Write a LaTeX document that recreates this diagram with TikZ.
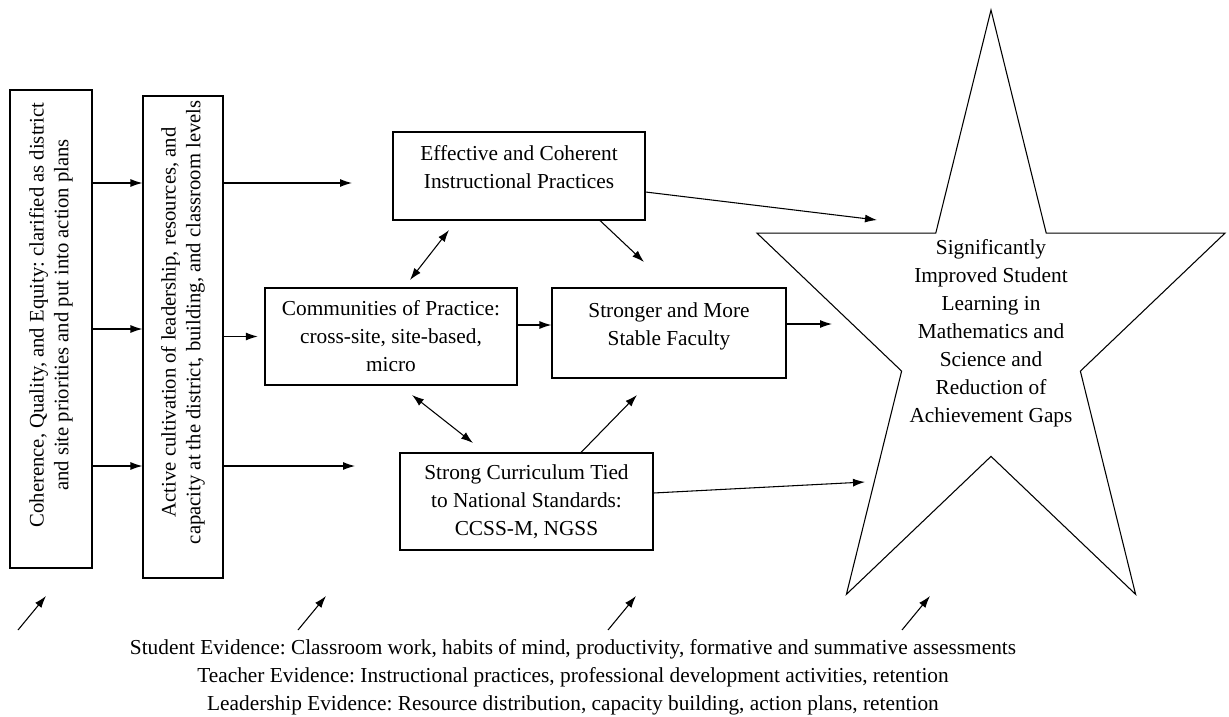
\documentclass[tikz,border=0pt]{standalone}
\usepackage{fontspec}
\setmainfont{Liberation Serif}
\usetikzlibrary{arrows.meta}
\frenchspacing

\tikzset{
  box/.style={draw, line width=0.8pt, align=center, inner sep=2pt},
  sidebox/.style={box, rotate=90, font=\fontsize{15.5}{18.5}\selectfont},
  arr/.style={-{Latex[length=9pt,width=6pt]}, line width=0.8pt},
  dblarr/.style={{Latex[length=9pt,width=6pt]}-{Latex[length=9pt,width=6pt]}, line width=0.8pt}
}

\begin{document}
\begin{tikzpicture}[x=0.75pt, y=-0.75pt, font=\fontsize{16}{21}\selectfont]
  \useasboundingbox (0,0) rectangle (1229,717);

  % left column (text runs upwards)
  \node[sidebox, minimum width=358.5pt, minimum height=61.5pt] (coh) at (51,329)
    {\hspace*{21pt}Coherence, Quality, and Equity: clarified as district\\
     \hspace*{21pt}and site priorities and put into action plans};
  \node[sidebox, minimum width=361.5pt, minimum height=60pt] (act) at (183,337)
    {\hspace*{22pt}Active cultivation of leadership, resources, and\\
     \hspace*{22pt}capacity at the district, building, and classroom levels};

  % middle boxes
  \node[box, minimum width=189pt, minimum height=66pt] (eff) at (519,176)
    {Effective and Coherent\\Instructional Practices\\[-7pt]\mbox{}};
  \node[box, minimum width=189pt, minimum height=72.75pt] (com) at (391,336.5)
    {Communities of Practice:\\cross-site, site-based,\\micro};
  \node[box, minimum width=175.5pt, minimum height=67.5pt] (sta) at (669,333)
    {Stronger and More\\Stable Faculty\\[-7pt]\mbox{}};
  \node[box, minimum width=189.75pt, minimum height=72.75pt] (cur) at (526.5,501.5)
    {Strong Curriculum Tied\\to National Standards:\\CCSS-M, NGSS};

  % the star
  \draw[line width=0.8pt] (991,10)
    \foreach \a/\r in {126/0.382,162/1,198/0.382,234/1,270/0.382,306/1,342/0.382,18/1,54/0.382}
      { -- ({991+246*\r*cos(\a)},{333-323*\r*sin(\a)}) } -- cycle;
  \node[align=center] (goal) at (991,333)
    {Significantly\\Improved Student\\Learning in\\Mathematics and\\Science and\\Reduction of\\Achievement Gaps};

  % free ends
  \coordinate (m1) at (352,183);
  \coordinate (m3) at (355,466);
  \coordinate (g1) at (877,220);
  \coordinate (g2) at (832,324);
  \coordinate (g3) at (865,482);
  \coordinate (ec1) at (449,230);
  \coordinate (ec2) at (410,280);
  \coordinate (cc1) at (412,395);
  \coordinate (cc2) at (473,443);
  \coordinate (es) at (644,262);
  \coordinate (cs) at (637,395);

  \draw[arr] (coh.south |- m1) -- (act.north |- m1);
  \draw[arr] (coh.south) -- (coh.south -| act.north);
  \draw[arr] (coh.south |- m3) -- (act.north |- m3);

  \draw[arr] (act.south |- m1) -- (m1);
  \draw[arr, shorten >=5pt] (act.south |- com.west) -- (com.west);
  \draw[arr] (act.south |- m3) -- (m3);

  \draw[arr] (eff.east |- 0,192) -- (g1);
  \draw[arr] (eff.south -| 600,0) -- (es);
  \draw[dblarr] (ec1) -- (ec2);
  \draw[arr] (com.east |- 0,325) -- (sta.west |- 0,325);
  \draw[arr] (sta.east |- g2) -- (g2);
  \draw[dblarr] (cc1) -- (cc2);
  \draw[arr] (cur.north -| 581,0) -- (cs);
  \draw[arr] (cur.east |- 0,493) -- (g3);

  % evidence
  \foreach \n/\x in {1/18,2/298,3/608,4/902}{
    \coordinate (ev\n) at (\x,630);
    \draw[arr] (ev\n) -- ++(28,-34);
  }
  \node[align=center] (evid) at (573,677)
    {Student Evidence: Classroom work, habits of mind, productivity, formative and summative assessments\\
     Teacher Evidence: Instructional practices, professional development activities, retention\\
     Leadership Evidence: Resource distribution, capacity building, action plans, retention};
\end{tikzpicture}
\end{document}
